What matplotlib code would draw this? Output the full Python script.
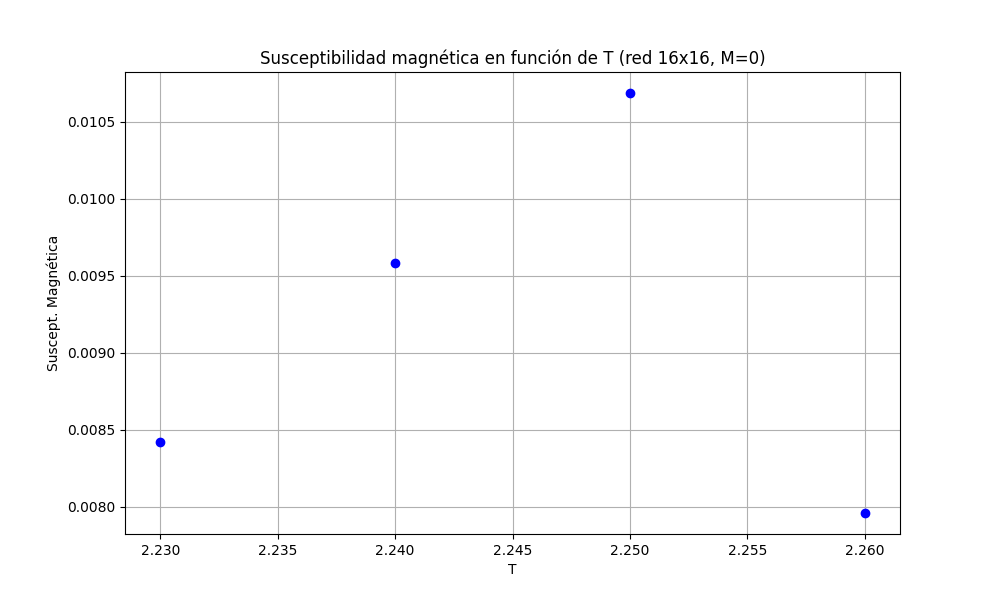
import matplotlib
matplotlib.use("Agg")
import matplotlib.pyplot as plt

# Datos
T = [2.23, 2.24, 2.25, 2.26]
chi = [0.008420, 0.009583, 0.010688, 0.007961]

fig, ax = plt.subplots(figsize=(10, 6), dpi=100)
ax.plot(T, chi, 'o', color='blue')
ax.set_title('Susceptibilidad magnética en función de T (red 16x16, M=0)')
ax.set_xlabel('T')
ax.set_ylabel('Suscept. Magnética')
ax.grid(True)

plt.savefig('out.png')
plt.close()
